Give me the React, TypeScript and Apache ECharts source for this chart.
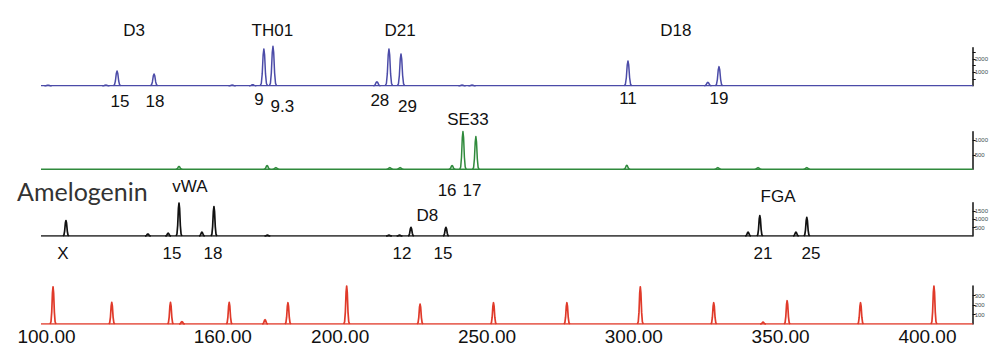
import { useEffect, useRef } from "react";
import * as echarts from "echarts";

// ---------- data (base pairs, RFU) ----------
const X_MIN = 95.9;
const X_MAX = 413.2;

// blue dye: D3, TH01, D21, D18
const bluePeaks: [number, number][] = [
  [121.8, 1100], [134.4, 880], [171.8, 2760], [174.9, 2950],
  [210.3, 300], [214.4, 2760], [218.5, 2380],
  [295.8, 1860], [323.0, 250], [326.8, 1430],
  [98.3, 40], [118.0, 50], [161.0, 50], [168.0, 80], [239.3, 50], [242.7, 50],
];
const blueLoci = ["D3", "TH01", "D21", "D18"];
const blueLociBp = [127.6, 174.7, 218.2, 312.1];
const blueAlleles = ["15", "18", "9", "9.3", "28", "29", "11", "19"];
const blueAllelesBp = [122.8, 134.7, 170.1, 178.1, 211.3, 220.7, 295.8, 326.8];

// green dye: SE33
const greenPeaks: [number, number][] = [
  [239.6, 1305], [244.0, 1130], [235.9, 130],
  [142.9, 100], [172.9, 130], [175.9, 60], [214.7, 60], [218.2, 60],
  [295.4, 140], [326.4, 60], [340.1, 60], [356.7, 60],
];
const greenLoci = ["SE33"];
const greenLociBp = [241.3];
const greenAlleles = ["16", "17"];
const greenAllelesBp = [234.2, 242.7];

// black dye: Amelogenin, vWA, D8, FGA
const blackPeaks: [number, number][] = [
  [104.4, 930], [142.9, 1980], [154.8, 1760], [221.9, 520], [233.8, 520],
  [340.7, 1220], [356.7, 1120],
  [132.3, 120], [139.2, 170], [150.7, 230], [336.7, 230], [353.0, 230],
  [173.0, 50], [214.4, 50], [218.0, 50],
];
const blackLoci = ["vWA", "D8", "FGA"];
const blackLociBp = [146.6, 227.5, 346.9];
const blackAlleles = ["X", "15", "18", "12", "15", "21", "25"];
const blackAllelesBp = [103.4, 140.5, 154.5, 218.8, 232.8, 341.8, 358.1];
const amelogeninLabel = "Amelogenin";
const amelogeninBp = 110.0;

// red dye: size standard
const redPeaks: [number, number][] = [
  [100, 390], [120, 228], [140, 228], [160, 228], [180, 224], [200, 400],
  [225, 210], [250, 224], [275, 224], [300, 390], [325, 224], [350, 245],
  [375, 224], [400, 400],
  [143.9, 25], [172.2, 45], [341.8, 20],
];
const sizeLabels = [100, 160, 200, 250, 300, 350, 400];

// y-axis tick labels per panel
const blueTicks = [1000, 2000];
const greenTicks = [500, 1000];
const blackTicks = [500, 1000, 1500];
const redTicks = [100, 200, 300];

// ---------- styling ----------
const SANS = "'Liberation Sans', Arial, Helvetica, sans-serif";
const SHAPE: [number, number][] = [
  [-1, 0], [-0.7, 0.06], [-0.45, 0.32], [-0.2, 0.84], [0, 1],
  [0.2, 0.84], [0.45, 0.32], [0.7, 0.06], [1, 0],
];

const panels = [
  { top: 47.7, height: 38, max: 2850, interval: 500, color: "#4b4ba8", width: 1.25, lw: 1.5, ticks: blueTicks, peaks: bluePeaks },
  { top: 131.7, height: 37.6, max: 1300, interval: 500, color: "#2f8a3c", width: 1.1, lw: 1.5, ticks: greenTicks, peaks: greenPeaks },
  { top: 202.7, height: 33.3, max: 2000, interval: 500, color: "#111111", width: 1.0, lw: 1.7, ticks: blackTicks, peaks: blackPeaks },
  { top: 286, height: 38, max: 400, interval: 100, color: "#e03a2a", width: 1.0, lw: 1.7, ticks: redTicks, peaks: redPeaks },
];

function peakSeries(i: number) {
  const p = panels[i];
  return {
    type: "custom",
    xAxisIndex: i,
    yAxisIndex: i,
    silent: true,
    clip: false,
    data: p.peaks,
    renderItem: (_params: any, api: any) => {
      const x = api.value(0);
      const h = api.value(1);
      const points = SHAPE.map(([dx, f]) => api.coord([x + dx * p.width, h * f]));
      return {
        type: "polyline",
        shape: { points },
        style: { stroke: p.color, fill: null, lineWidth: p.lw, lineJoin: "round" },
      };
    },
  };
}

function baselineSeries(i: number) {
  const p = panels[i];
  return {
    type: "line",
    xAxisIndex: i,
    yAxisIndex: i,
    silent: true,
    symbol: "none",
    lineStyle: { color: p.color, width: p.lw },
    data: [[X_MIN, 0], [X_MAX, 0]],
  };
}

function labelSeries(
  i: number,
  bps: number[],
  texts: string[],
  dy: number[],
  font: { fontSize: number; fontFamily: string; fill: string }
) {
  return {
    type: "custom",
    xAxisIndex: i,
    yAxisIndex: i,
    silent: true,
    clip: false,
    data: bps.map((b) => [b, 0]),
    renderItem: (params: any, api: any) => {
      const c = api.coord([api.value(0), 0]);
      const k = params.dataIndex;
      return {
        type: "text",
        x: c[0],
        y: c[1] + dy[k],
        style: {
          text: texts[k],
          fontSize: font.fontSize,
          fontFamily: font.fontFamily,
          fill: font.fill,
          align: "center",
          verticalAlign: "middle",
          textAlign: "center",
          textVerticalAlign: "middle",
        },
      };
    },
  };
}

const labelFont = { fontSize: 17, fontFamily: SANS, fill: "#111" };

function buildOption() {
  const grid = panels.map((p) => ({
    left: 41,
    width: 931.7,
    top: p.top,
    height: p.height,
    containLabel: false,
  }));
  const xAxis = panels.map((_p, i) => ({
    type: "value",
    gridIndex: i,
    min: X_MIN,
    max: X_MAX,
    show: i === 3,
    axisLine: { show: false },
    axisTick: { show: false },
    splitLine: { show: false },
    axisLabel:
      i === 3
        ? {
            customValues: sizeLabels,
            formatter: (v: number) => v.toFixed(2),
            fontSize: 19,
            fontFamily: SANS,
            color: "#111",
            margin: 3,
            padding: [0, 13, 0, 0],
          }
        : { show: false },
  }));
  const yAxis = panels.map((p, i) => ({
    type: "value",
    gridIndex: i,
    position: "right",
    min: 0,
    max: p.max,
    interval: p.interval,
    splitLine: { show: false },
    axisLine: { show: true, lineStyle: { color: "#111", width: 1.5 } },
    axisTick: { show: true, inside: false, length: 3, lineStyle: { color: "#111", width: 1 } },
    axisLabel: {
      show: true,
      margin: 2,
      fontSize: 6,
      fontFamily: SANS,
      color: "#3c5050",
      showMinLabel: false,
      showMaxLabel: false,
      formatter: (v: number) => (p.ticks.indexOf(v) >= 0 ? String(v) : ""),
    },
  }));

  const series: any[] = [];
  panels.forEach((_p, i) => {
    series.push(baselineSeries(i));
    series.push(peakSeries(i));
  });

  series.push(labelSeries(0, blueLociBp, blueLoci, blueLoci.map(() => -55.7), labelFont));
  series.push(labelSeries(0, blueAllelesBp, blueAlleles, [16, 16, 13.5, 20.5, 15, 21, 13, 12.5], labelFont));
  series.push(labelSeries(1, greenLociBp, greenLoci, [-50.3], labelFont));
  series.push(labelSeries(1, greenAllelesBp, greenAlleles, [21, 21], labelFont));
  series.push(labelSeries(2, blackLociBp, blackLoci, [-50, -21, -39.3], labelFont));
  series.push(labelSeries(2, blackAllelesBp, blackAlleles, blackAlleles.map(() => 17), labelFont));
  series.push(
    labelSeries(2, [amelogeninBp], [amelogeninLabel], [-45], {
      fontSize: 25,
      fontFamily: "Lato, 'Open Sans', sans-serif",
      fill: "#333333",
    })
  );

  return {
    animation: false,
    backgroundColor: "#ffffff",
    grid,
    xAxis,
    yAxis,
    series,
  };
}

export default function App() {
  const ref = useRef<HTMLDivElement>(null);
  useEffect(() => {
    document.body.style.margin = "0";
    const chart = echarts.init(ref.current!, null, { renderer: "svg" });
    chart.setOption(buildOption() as any);
    return () => chart.dispose();
  }, []);
  return <div ref={ref} style={{ width: 1000, height: 356 }} />;
}
